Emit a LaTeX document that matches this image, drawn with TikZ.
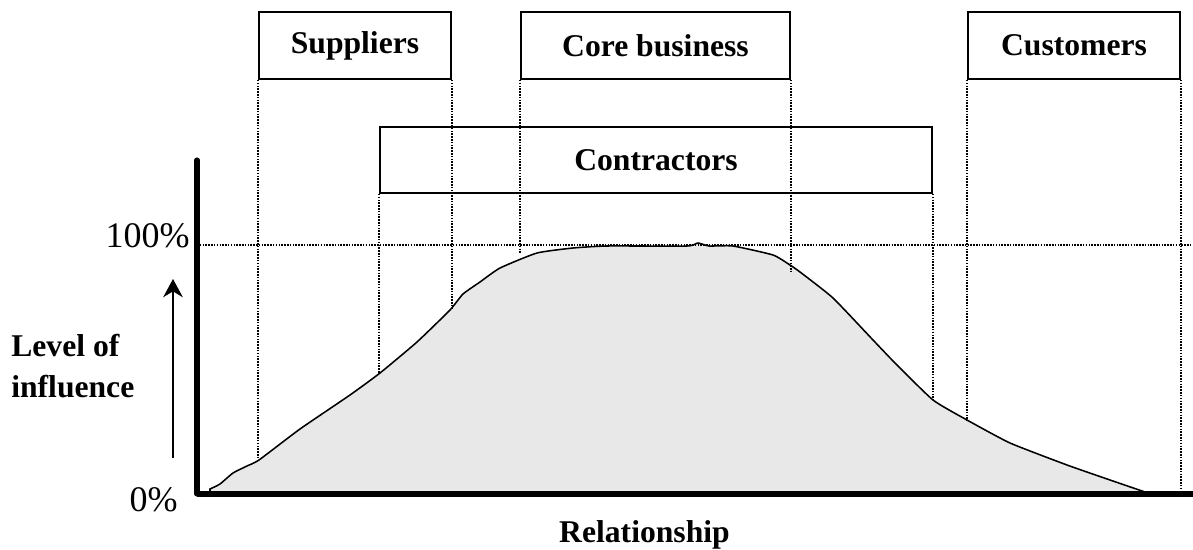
\documentclass[tikz,border=0pt]{standalone}
\usepackage{fontspec}
\setmainfont{Liberation Serif}
\usetikzlibrary{arrows.meta}
\definecolor{areagray}{HTML}{E8E8E8}
\tikzset{
  box/.style={draw, line width=1.3pt, inner sep=0pt, font=\fontsize{22.5}{27}\selectfont\bfseries},
  guide/.style={dash pattern=on 1.1pt off 0.9pt, line width=1pt},
  axisline/.style={line width=3.6pt},
  bigtext/.style={inner sep=0pt, font=\fontsize{25.6}{30}\selectfont},
  boldtext/.style={inner sep=0pt, font=\fontsize{22.5}{29}\selectfont\bfseries}
}
\begin{document}
\begin{tikzpicture}[x=0.025cm, y=-0.025cm]
    \useasboundingbox (0,0) rectangle (1193,550);
    % area under the curve
    \filldraw[fill=areagray, line width=1.1pt] (210,490) -- plot[smooth, tension=0.3] coordinates {(210,489) (220,484) (233,473) (247,466) (259,460) (300,429) (350,395) (380,373) (417,342) (450,310) (463,294) (480,282) (500,268) (537,253) (573,248) (607,246) (687,246) (698,243) (709,246) (733,246) (773,255) (790,265) (800,272) (833,298) (873,340) (895,363) (933,400) (967,420) (1010,443) (1067,465) (1110,480) (1145,492)} -- (1145,493) -- (210,493) -- cycle;
    % boxes
    \node[box, minimum width=4.8cm, minimum height=1.675cm] (suppliers) at (355,45.5) {Suppliers};
    \node[box, minimum width=6.725cm, minimum height=1.675cm] (core) at (655.5,45.5) {Core business};
    \node[box, minimum width=5.3cm, minimum height=1.675cm] (customers) at (1074,45.5) {Customers};
    \node[box, minimum width=13.8cm, minimum height=1.65cm] (contractors) at (656,160) {Contractors};
    % where the guides meet the curve
    \coordinate (sup west) at (259,460);
    \coordinate (sup east) at (450,310);
    \coordinate (core west) at (521,254);
    \coordinate (core east) at (790,272);
    \coordinate (con west) at (380,373);
    \coordinate (con east) at (932,400);
    \coordinate (cus west) at (968,421);
    \coordinate (cus east) at (1180,494);
    \foreach \b/\c in {suppliers.south west/sup west, suppliers.south east/sup east, core.south west/core west, core.south east/core east, contractors.south west/con west, contractors.south east/con east, customers.south west/cus west, customers.south east/cus east}
    {
        \draw[guide] (\b) -- (\b |- \c);
    }
    % 100% level
    \coordinate (full left) at (197,245);
    \coordinate (full right) at (1193,245);
    \draw[guide] (full left) -- (full right);
    % axes
    \coordinate (y top) at (197,160);
    \coordinate (origin) at (197,494);
    \coordinate (x end) at (1193,494);
    \draw[axisline, line cap=round] (y top) -- (origin);
    \draw[axisline] (origin) -- (x end);
    \coordinate (arrow low) at (173,458);
    \coordinate (arrow high) at (173,279);
    \draw[-{Stealth[length=13pt, width=14pt]}, line width=1.1pt] (arrow low) -- (arrow high);
    % labels
    \node[bigtext, anchor=base east] (full) at (190,248) {100\%};
    \node[bigtext, anchor=base east] (zero) at (178,512) {0\%};
    \node[boldtext, anchor=west, align=left] (level) at (11,366) {Level of\\influence};
    \node[boldtext, anchor=base] (relation) at (644.5,543) {Relationship};
\end{tikzpicture}
\end{document}
